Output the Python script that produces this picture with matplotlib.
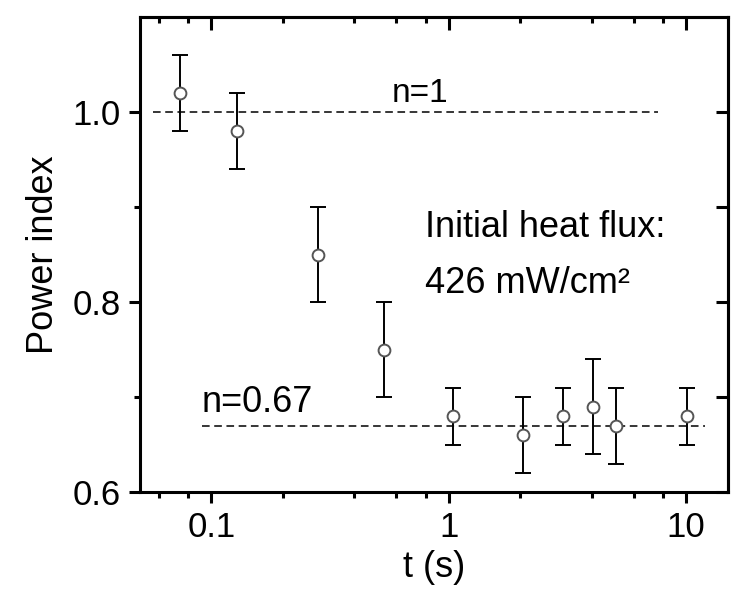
import matplotlib

matplotlib.use("Agg")
import matplotlib.pyplot as plt  # noqa: E402
from matplotlib.ticker import FixedFormatter, FixedLocator, NullFormatter  # noqa: E402

# data
t_s = [0.074, 0.128, 0.28, 0.533, 1.04, 2.05, 3.04, 4.03, 5.08, 10.1]
power_index = [1.02, 0.98, 0.85, 0.75, 0.68, 0.66, 0.68, 0.69, 0.67, 0.68]
err = [0.04, 0.04, 0.05, 0.05, 0.03, 0.04, 0.03, 0.05, 0.04, 0.03]

ref_levels = [1.0, 0.67]
ref_spans = [(0.057, 7.6), (0.091, 12.0)]
ref_labels = ["n=1", "n=0.67"]

x_major = [0.1, 1, 10]
x_major_labels = ["0.1", "1", "10"]
y_major = [0.6, 0.8, 1.0]
y_major_labels = ["0.6", "0.8", "1.0"]

plt.rcParams["font.family"] = ["Liberation Sans", "DejaVu Sans"]

fig = plt.figure(figsize=(7.31, 5.91), dpi=100)
ax = fig.add_axes([0.1915, 0.1675, 0.8044, 0.8037])

ax.errorbar(t_s, power_index, yerr=err, fmt="o", color="black", ecolor="black",
            mfc="white", mec="#555555", ms=8.5, mew=1.4, elinewidth=1.4,
            capsize=6, capthick=1.4, zorder=3)

for lvl, (x0, x1) in zip(ref_levels, ref_spans):
    ax.plot([x0, x1], [lvl, lvl], color="black", lw=1.1, ls=(0, (5, 3)), zorder=2)

ax.text(0.576, 1.0105, ref_labels[0], fontsize=24, va="baseline", ha="left")
ax.text(0.091, 0.684, ref_labels[1], fontsize=26, va="baseline", ha="left")
ax.text(0.79, 0.868, "Initial heat flux:", fontsize=26, va="baseline", ha="left")
ax.text(0.79, 0.81, "426 mW/cm\u00b2", fontsize=26, va="baseline", ha="left")

ax.set_xscale("log")
ax.set_xlim(0.05, 15)
ax.set_ylim(0.6, 1.1)

minors = [m * d for d in (0.01, 0.1, 1, 10) for m in (2, 4, 6, 8)]
ax.xaxis.set_major_locator(FixedLocator(x_major))
ax.xaxis.set_major_formatter(FixedFormatter(x_major_labels))
ax.xaxis.set_minor_locator(FixedLocator(minors))
ax.xaxis.set_minor_formatter(NullFormatter())
ax.yaxis.set_major_locator(FixedLocator(y_major))
ax.yaxis.set_major_formatter(FixedFormatter(y_major_labels))
ax.yaxis.set_minor_locator(FixedLocator([0.7, 0.9]))
ax.yaxis.set_minor_formatter(NullFormatter())

for s in ax.spines.values():
    s.set_linewidth(2.2)

ax.tick_params(which="major", direction="out", length=8, width=2.2,
               labelsize=25, pad=6, top=False, right=False)
ax.tick_params(which="minor", direction="out", length=4, width=2.2,
               top=False, right=False)

# inward ticks on top and right spines
sec_x = ax.secondary_xaxis("top")
sec_x.xaxis.set_major_locator(FixedLocator(x_major))
sec_x.xaxis.set_minor_locator(FixedLocator(minors))
sec_x.xaxis.set_major_formatter(NullFormatter())
sec_x.xaxis.set_minor_formatter(NullFormatter())
sec_x.tick_params(which="major", direction="in", length=9, width=2.2)
sec_x.tick_params(which="minor", direction="in", length=4, width=2.2)
sec_x.spines["top"].set_linewidth(2.2)

sec_y = ax.secondary_yaxis("right")
sec_y.yaxis.set_major_locator(FixedLocator([0.6, 0.7, 0.8, 0.9, 1.0]))
sec_y.yaxis.set_minor_locator(FixedLocator([]))
sec_y.yaxis.set_major_formatter(NullFormatter())
sec_y.tick_params(which="major", direction="in", length=9, width=2.2)
sec_y.spines["right"].set_linewidth(2.2)

ax.set_xlabel("t (s)", fontsize=26, labelpad=4)
ax.set_ylabel("Power index", fontsize=26, labelpad=8)

fig.savefig("out.png", dpi=100)
